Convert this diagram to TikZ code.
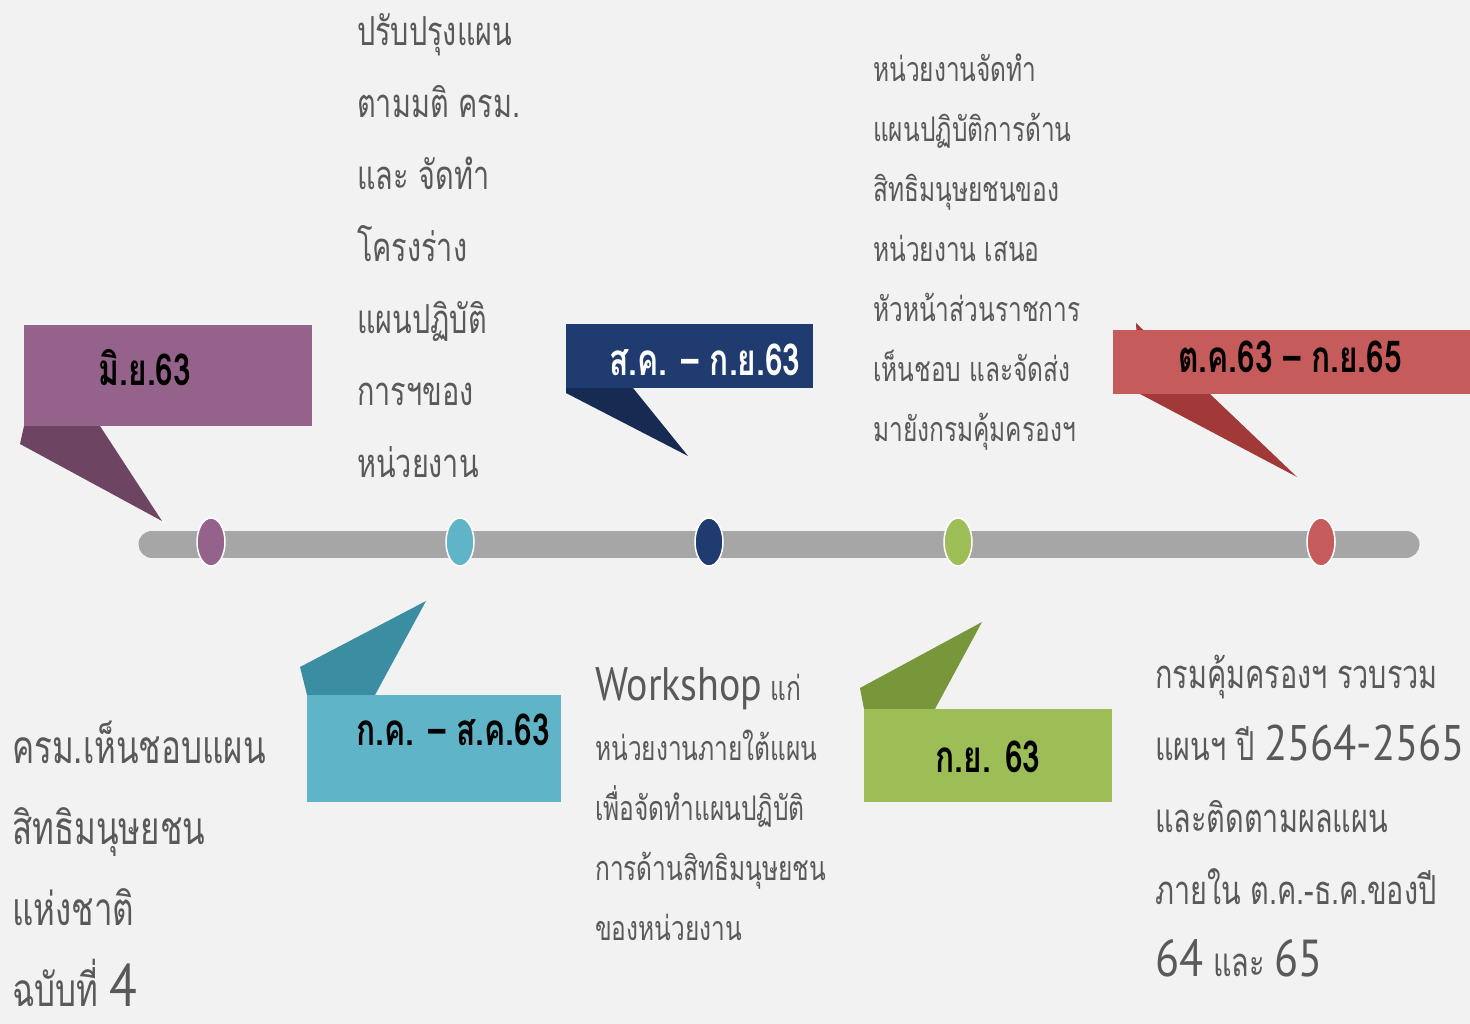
\documentclass[tikz,border=0pt]{standalone}
\usepackage{fontspec}
\setmainfont[Script=Thai,FakeStretch=0.72]{Loma}
\newfontfamily\gill[FakeStretch=0.85]{PT Sans}
\usetikzlibrary{backgrounds,positioning,shapes}
\pgfdeclarelayer{paper}
\pgfsetlayers{paper,background,main}

\definecolor{paperc}{HTML}{F2F2F2}
\definecolor{barc}{HTML}{A6A6A6}
\definecolor{txt}{HTML}{595959}
\definecolor{purbox}{HTML}{94628A}
\definecolor{purdark}{HTML}{6D4563}
\definecolor{navybox}{HTML}{1F3B70}
\definecolor{navydark}{HTML}{172B52}
\definecolor{redbox}{HTML}{C65B5B}
\definecolor{reddark}{HTML}{A23939}
\definecolor{tealbox}{HTML}{5FB4C8}
\definecolor{tealdark}{HTML}{3B8EA2}
\definecolor{greenbox}{HTML}{9DBE57}
\definecolor{greendark}{HTML}{78973A}

\begin{document}
\begin{tikzpicture}[x=1pt,y=-1pt,
  box/.style={anchor=north west, inner sep=0pt, outer sep=0pt},
  datelabel/.style={font=\bfseries\fontsize{44}{50}\selectfont, text=black, inner sep=0pt},
  dot/.style={ellipse, minimum width=28pt, minimum height=48pt, inner sep=0pt,
    draw=white, line width=1.5pt},
  note/.style={anchor=base west, align=left, inner sep=0pt, text=txt},
  bar/.style={line width=27pt, line cap=round, draw=barc}]

  \useasboundingbox (0,0) rectangle (1470,1024);
  \begin{pgfonlayer}{paper}
    \fill[paperc] (0,0) rectangle (1470,1024);
  \end{pgfonlayer}

  % the time line and its stops
  \coordinate (barL) at (152,544);
  \coordinate (barR) at (1406,544);
  \draw[bar] (barL) -- (barR);

  \node[dot, fill=purbox] (stopjun) at (211,542) {};
  \node[dot, fill=tealbox] (stopjul) at (460,542) {};
  \node[dot, fill=navybox] (stopaug) at (709,542) {};
  \node[dot, fill=greenbox] (stopsep) at (958,542) {};
  \node[dot, fill=redbox] (stopoct) at (1321,542) {};

  % date boxes above the line
  \node[box, fill=purbox, minimum width=288pt, minimum height=101pt] (jun) at (24,325) {};
  \node[datelabel] (junlabel) at (145,368) {มิ.ย.63};

  \node[box, fill=navybox, minimum width=247pt, minimum height=64pt] (aug) at (566,324) {};
  \node[datelabel, text=white] (auglabel) at (705,360) {ส.ค. – ก.ย.63};

  \node[box, fill=redbox, minimum width=357pt, minimum height=64pt] (oct) at (1113,330) {};
  \node[datelabel] (octlabel) at (1290,357) {ต.ค.63 – ก.ย.65};

  % date boxes below the line
  \node[box, fill=tealbox, minimum width=254pt, minimum height=107pt] (jul) at (307,695) {};
  \node[datelabel] (jullabel) at (453,730) {ก.ค. – ส.ค.63};

  \node[box, fill=greenbox, minimum width=248pt, minimum height=93pt] (sep) at (864,709) {};
  \node[datelabel] (seplabel) at (988,757) {ก.ย. 63};

  % the pointers behind the boxes
  \coordinate (juntip) at (162,521);
  \coordinate (augtip) at (688,456);
  \coordinate (octtip) at (1297,477);
  \coordinate (jultip) at (426,601);
  \coordinate (septip) at (982,622);
  \begin{pgfonlayer}{background}
    \fill[purdark] (jun.south west) -- ++(76,0) -- (juntip) -- ([shift={(-4pt,-18pt)}]jun.south west) -- cycle;
    \fill[navydark] (aug.south west) -- ++(67,0) -- (augtip) -- ([yshift=-5pt]aug.south west) -- cycle;
    \fill[reddark] ([shift={(23pt,7pt)}]oct.north west) -- ++(74,71) -- (octtip) -- ([xshift=27pt]oct.south west) -- cycle;
    \fill[tealdark] (jul.north west) -- ++(68,0) -- (jultip) -- ([shift={(-7pt,28pt)}]jul.north west) -- cycle;
    \fill[greendark] (sep.north west) -- ++(71,0) -- (septip) -- ([shift={(-4pt,21pt)}]sep.north west) -- cycle;
  \end{pgfonlayer}

  % texts (placed by the baseline of their last line)
  \node[note, font=\fontsize{40}{72}\selectfont] (plan) at (357,477)
    {ปรับปรุงแผน\\ตามมติ ครม.\\และ จัดทำ\\โครงร่าง\\แผนปฏิบัติ\\การฯของ\\หน่วยงาน};
  \node[note, font=\fontsize{34}{60}\selectfont] (submit) at (873,441)
    {หน่วยงานจัดทำ\\แผนปฏิบัติการด้าน\\สิทธิมนุษยชนของ\\หน่วยงาน เสนอ\\หัวหน้าส่วนราชการ\\เห็นชอบ และจัดส่ง\\มายังกรมคุ้มครองฯ};
  \node[note, font=\fontsize{46}{81}\selectfont] (cabinet) at (12,1006)
    {ครม.เห็นชอบแผน\\สิทธิมนุษยชน\\แห่งชาติ\\ฉบับที่ {\gill\fontsize{60}{81}\selectfont 4}};
  \node[note, font=\fontsize{34}{60}\selectfont] (workshop) at (595,940)
    {{\gill\fontsize{47}{60}\selectfont Workshop} แก่\\หน่วยงานภายใต้แผน\\เพื่อจัดทำแผนปฏิบัติ\\การด้านสิทธิมนุษยชน\\ของหน่วยงาน};
  \node[note, font=\fontsize{40}{72}\selectfont] (collect) at (1155,976)
    {กรมคุ้มครองฯ รวบรวม\\แผนฯ ปี {\gill\fontsize{50}{72}\selectfont 2564-2565}\\และติดตามผลแผน\\ภายใน ต.ค.-ธ.ค.ของปี\\{\gill\fontsize{52}{72}\selectfont 64} และ {\gill\fontsize{52}{72}\selectfont 65}};
\end{tikzpicture}
\end{document}
